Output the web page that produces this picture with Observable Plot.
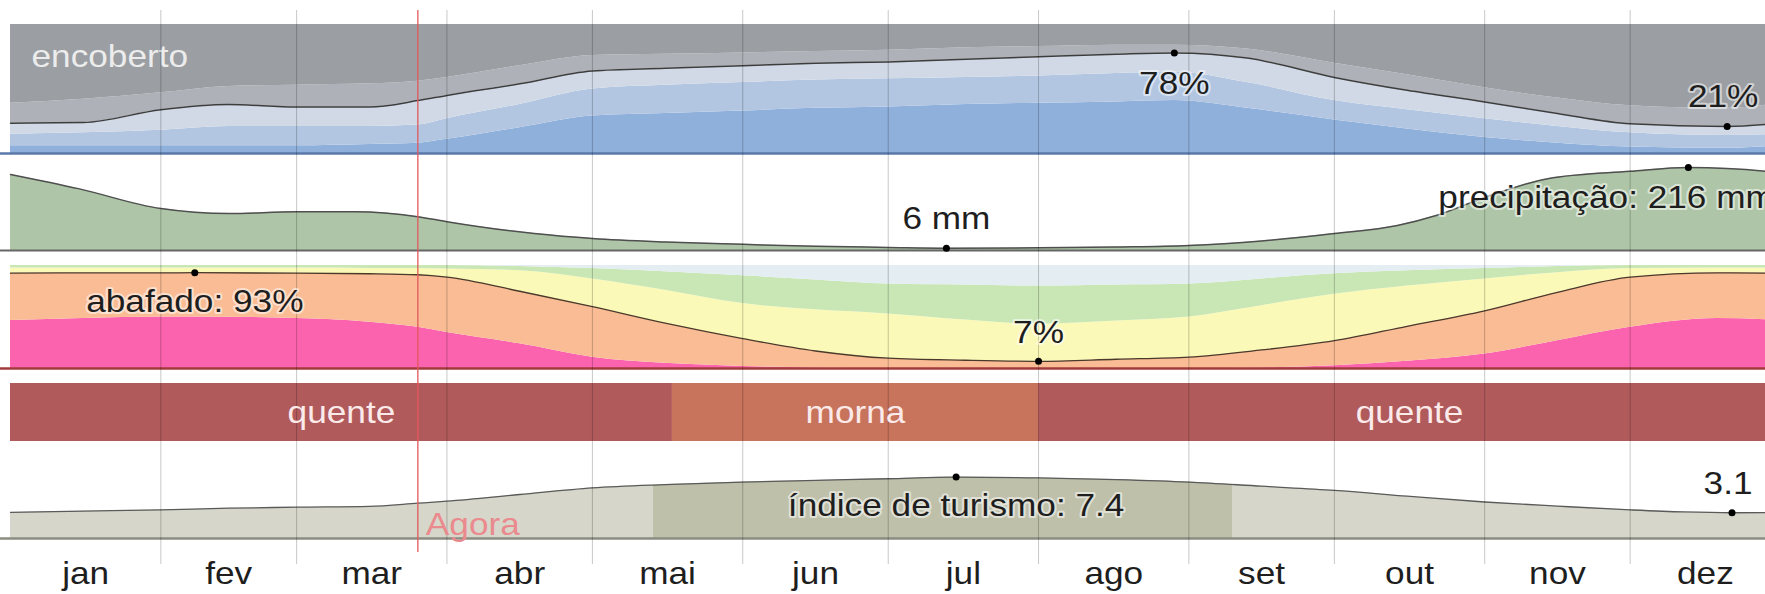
<!DOCTYPE html>
<html><head><meta charset="utf-8">
<script src="https://cdn.jsdelivr.net/npm/d3@7"></script>
<script src="https://cdn.jsdelivr.net/npm/@observablehq/plot@0.6"></script>
<style>
html,body{margin:0;padding:0;background:#fff;overflow:hidden;}
#chart svg{display:block;}
</style></head><body><div id="chart"></div>
<script>
// ---- months ----
const monthNames = ["jan","fev","mar","abr","mai","jun","jul","ago","set","out","nov","dez"];
const monthStarts = [0,31,59,90,120,151,181,212,243,273,304,334,365];
const nowDay = 84;

// ---- cloud cover (% of time, cumulative from the clearest band) ----
const cloudDays        = [0, 15, 31, 45, 59, 74, 84, 90, 105, 120, 135, 151, 166, 181, 197, 212, 228, 240, 255, 273, 288, 304, 319, 334, 354, 365];
const cloudClear       = [6, 6, 6, 6, 6, 7, 8, 11, 20, 29, 31, 33, 35, 36, 38, 39, 40, 41, 35, 26, 19, 12.5, 8, 5, 4, 6];
const cloudMostlyClear = [15, 16, 18, 21, 21, 21, 22, 27, 38, 50, 53, 55, 57, 58, 59, 60, 62, 63, 55, 41, 34, 27, 21, 16, 14, 15];
const cloudPartly      = [23.5, 24, 34, 38, 36, 36, 41, 45, 54, 64, 66, 68, 70, 71, 73, 75, 77, 78, 74, 59, 49, 40, 31, 23, 21, 23.5];
const cloudMostly      = [39, 42, 47, 52, 53, 54, 56, 59, 68, 76, 77, 78, 79, 80, 82, 83, 84, 84, 81, 70, 61, 51, 43, 37, 35, 39];

// ---- precipitation (mm) ----
const precipDays = [0, 14, 31, 45, 59, 71, 84, 90, 108, 120, 135, 151, 166, 181, 193, 212, 228, 243, 258, 273, 286, 294, 304, 317, 334, 346, 362, 365];
const precipMm   = [198, 161, 109, 96, 101, 101, 88, 75, 44, 31, 22, 16, 11, 8, 6, 7, 9, 13, 25, 44, 65, 91, 138, 187, 206, 216, 206, 198];

// ---- humidity comfort (% of time, cumulative from the most humid band) ----
const humDays        = [0, 15, 31, 38, 59, 74, 84, 90, 105, 120, 135, 151, 166, 181, 197, 212, 228, 243, 258, 273, 288, 304, 319, 334, 352, 365];
const humOppressive  = [46.6, 48.5, 50, 50, 48.5, 45, 40, 35, 24, 11, 5, 2, 0.5, 0, 0, 0, 0, 0, 0.5, 2.6, 7, 14, 27, 40, 48.5, 46.6];
const humMuggy       = [92.5, 92.8, 92.8, 93, 92.5, 92, 91, 88.7, 75, 60, 44, 29, 17, 10, 8, 7, 9, 11, 18, 27, 41, 56, 74, 88.7, 92.9, 92.5];
const humHumid       = [97.5, 97.5, 97.5, 97.5, 97.5, 97.2, 97, 96.5, 95, 87, 76, 63, 57, 53, 47, 43, 46, 50, 61, 72, 80, 87, 93, 97, 97.5, 97.5];
const humComfortable = [100, 100, 100, 100, 100, 100, 100, 100, 99, 97, 94, 90, 86, 82, 81, 80, 81, 82, 87, 92, 95, 97, 99, 100, 100, 100];

// ---- temperature seasons ----
const tempLabels = ["quente", "morna", "quente"];
const tempStart  = [0, 136.5, 212];
const tempEnd    = [136.5, 212, 365];

// ---- tourism score ----
const tourismDays  = [0, 15, 31, 45, 59, 74, 84, 90, 105, 120, 135, 151, 166, 181, 195, 212, 228, 243, 258, 273, 288, 304, 319, 334, 345, 355, 365];
const tourismScore = [3.15, 3.3, 3.45, 3.65, 3.77, 3.86, 4.25, 4.5, 5.3, 6.1, 6.5, 6.8, 7.0, 7.2, 7.4, 7.3, 7.1, 6.8, 6.3, 5.8, 5.1, 4.4, 3.9, 3.45, 3.2, 3.1, 3.15];
const bestSeasonStart = 132.6, bestSeasonEnd = 252;

// ---- build tables ----
const cloud = cloudDays.map((d,i)=>({day:d, clear:cloudClear[i], mclear:cloudMostlyClear[i], partly:cloudPartly[i], mostly:cloudMostly[i]}));
const precip = precipDays.map((d,i)=>({day:d, mm:precipMm[i]}));
const hum = humDays.map((d,i)=>({day:d, opp:humOppressive[i], muggy:humMuggy[i], humid:humHumid[i], comf:humComfortable[i]}));
const temp = tempLabels.map((t,i)=>({label:t, start:tempStart[i], end:tempEnd[i]}));
const tour = tourismDays.map((d,i)=>({day:d, score:tourismScore[i]}));
const months = monthNames.map((m,i)=>({name:m, mid:(monthStarts[i]+monthStarts[i+1])/2}));
const gridDays = monthStarts.slice(1,12);

const FONT = "'Liberation Sans', Arial, sans-serif";
const FS = 32;
const X = {domain:[0,365], range:[10,1780], axis:null};
const curve = "monotone-x";
const W = 1765;
const base = {width:W, marginLeft:0, marginRight:0, marginTop:0, marginBottom:0, x:X, style:{fontFamily:FONT, background:"transparent", overflow:"hidden"}};
const grid = (opts={}) => Plot.ruleX(gridDays, {stroke:"#000", strokeOpacity:0.22, strokeWidth:1, ...opts});
const nowRule = (opts={}) => Plot.ruleX([nowDay], {stroke:"#e2595c", strokeWidth:1.3, ...opts});
const lbl = {fontSize:FS, fill:"#1e1e1e", stroke:"#ffffff", strokeOpacity:0.55, strokeWidth:4, lineAnchor:"middle"};

const ext = (arr, key, fn) => arr[fn(arr, d=>d[key])];
const cMax = ext(cloud, "partly", d3.greatestIndex), cMin = ext(cloud, "partly", d3.leastIndex);
const pMax = ext(precip, "mm", d3.greatestIndex), pMin = ext(precip, "mm", d3.leastIndex);
const hMax = ext(hum, "muggy", d3.greatestIndex), hMin = ext(hum, "muggy", d3.leastIndex);
const tMax = ext(tour, "score", d3.greatestIndex), tMin = ext(tour, "score", d3.leastIndex);

const chart = document.getElementById("chart");
function add(svg){
  chart.append(svg);
  // the reference typeface is slightly wide: stretch glyphs horizontally
  svg.querySelectorAll("text").forEach(t=>{
    const L = t.getComputedTextLength();
    if (L > 0) { t.setAttribute("textLength", (L*1.1).toFixed(1)); t.setAttribute("lengthAdjust","spacingAndGlyphs"); }
  });
}

// Cloud panel
add(Plot.plot({...base, height:155, marginTop:10,
  y:{domain:[0,100], range:[153,24], axis:null},
  marks:[
    Plot.areaY(cloud, {x:"day", y1:0, y2:"clear", fill:"#8fb0db", curve}),
    Plot.areaY(cloud, {x:"day", y1:"clear", y2:"mclear", fill:"#b2c6e2", curve}),
    Plot.areaY(cloud, {x:"day", y1:"mclear", y2:"partly", fill:"#d1d9e6", curve}),
    Plot.areaY(cloud, {x:"day", y1:"partly", y2:"mostly", fill:"#aeb1b7", curve}),
    Plot.areaY(cloud, {x:"day", y1:"mostly", y2:100, fill:"#9b9ea3", curve}),
    Plot.lineY(cloud, {x:"day", y:"partly", stroke:"#3d3d3d", strokeWidth:1.5, curve}),
    Plot.ruleY([0], {stroke:"#5b79a8", strokeWidth:2.5}),
    Plot.text(["encoberto"], {frameAnchor:"top-left", dx:31, dy:34, lineAnchor:"top", fontSize:FS, fill:"#ececec"}),
    grid(), nowRule(),
    Plot.dot([cMax, cMin], {x:"day", y:"partly", r:3.5, fill:"#000"}),
    Plot.text([cMax], {x:"day", y:"partly", text:d=>`${Math.round(d.partly)}%`, dy:31, ...lbl}),
    Plot.text([cMin], {x:"day", y:"partly", text:d=>`${Math.round(d.partly)}%`, dy:-30, dx:-4, ...lbl})
  ]}));

// Precipitation panel
add(Plot.plot({...base, height:103,
  y:{domain:[0,216], range:[95,12], axis:null},
  marks:[
    Plot.areaY(precip, {x:"day", y:"mm", fill:"#aec6a7", curve}),
    Plot.lineY(precip, {x:"day", y:"mm", stroke:"#4f4f4f", strokeWidth:1.5, curve}),
    Plot.ruleY([0], {stroke:"#666", strokeWidth:2}),
    grid(), nowRule(),
    Plot.dot([pMax, pMin], {x:"day", y:"mm", r:3.5, fill:"#000"}),
    Plot.text([pMin], {x:"day", y:"mm", text:d=>`${d.mm} mm`, dy:-29, ...lbl}),
    Plot.text([pMax], {x:"day", y:"mm", text:d=>`precipitação: ${d.mm} mm`, textAnchor:"start", dx:-250, dy:30, ...lbl})
  ]}));

// Humidity panel
add(Plot.plot({...base, height:118,
  y:{domain:[0,100], range:[110,7], axis:null},
  marks:[
    Plot.areaY(hum, {x:"day", y1:0, y2:"opp", fill:"#fc63ae", curve}),
    Plot.areaY(hum, {x:"day", y1:"opp", y2:"muggy", fill:"#f9bc94", curve}),
    Plot.areaY(hum, {x:"day", y1:"muggy", y2:"humid", fill:"#fbf9b7", curve}),
    Plot.areaY(hum, {x:"day", y1:"humid", y2:"comf", fill:"#c9e6b5", curve}),
    Plot.areaY(hum, {x:"day", y1:"comf", y2:100, fill:"#e3edf2", curve}),
    Plot.lineY(hum, {x:"day", y:"muggy", stroke:"#4a3a2a", strokeWidth:1.3, curve}),
    Plot.ruleY([0], {stroke:"#a23c3c", strokeWidth:2.5}),
    grid(), nowRule(),
    Plot.dot([hMax, hMin], {x:"day", y:"muggy", r:3.5, fill:"#000"}),
    Plot.text([hMax], {x:"day", y:"muggy", text:d=>`abafado: ${Math.round(d.muggy)}%`, dy:29, ...lbl}),
    Plot.text([hMin], {x:"day", y:"muggy", text:d=>`${Math.round(d.muggy)}%`, dy:-29, ...lbl})
  ]}));

// Temperature panel
add(Plot.plot({...base, height:72,
  y:{domain:[0,1], range:[65,7], axis:null},
  color:{domain:["quente","morna"], range:["#b15a5b","#c8735c"]},
  marks:[
    Plot.rect(temp, {x1:"start", x2:"end", y1:0, y2:1, fill:"label"}),
    grid(), nowRule(),
    Plot.text(temp, {x:d=>(d.start+d.end)/2, y:0.5, text:"label", fontSize:FS, fill:"#fbeaea", lineAnchor:"middle"})
  ]}));

// Tourism panel
add(Plot.plot({...base, height:116,
  y:{domain:[0,10], range:[90,7], axis:null},
  marks:[
    Plot.areaY(tour, {x:"day", y:"score", fill:"#d6d7ca", curve}),
    Plot.rect([{a:bestSeasonStart, b:bestSeasonEnd}], {x1:"a", x2:"b", y1:0, y2:10, fill:"#bec0aa"}),
    Plot.areaY(tour, {x:"day", y1:"score", y2:10, fill:"#ffffff", curve}),
    Plot.lineY(tour, {x:"day", y:"score", stroke:"#5a5a5a", strokeWidth:1.3, curve}),
    Plot.ruleY([0], {stroke:"#8b8c82", strokeWidth:2.5}),
    grid(), nowRule({insetBottom:12}),
    Plot.text([nowDay], {x:d=>d, y:0, text:()=>"Agora", textAnchor:"start", dx:8, dy:-14, lineAnchor:"middle", fontSize:FS, fill:"#ea8a8e"}),
    Plot.dot([tMax, tMin], {x:"day", y:"score", r:3.5, fill:"#000"}),
    Plot.text([tMax], {x:"day", y:"score", text:d=>`índice de turismo: ${d.score}`, dy:29, ...lbl}),
    Plot.text([tMin], {x:"day", y:"score", text:d=>`${d.score}`, dy:-29, dx:-4, ...lbl})
  ]}));

// Month labels
add(Plot.plot({...base, height:30, style:{...base.style, overflow:"visible"},
  y:{domain:[0,1], range:[30,0], axis:null},
  marks:[
    Plot.text(months, {x:"mid", frameAnchor:"top", text:"name", lineAnchor:"top", dy:-3, fontSize:FS, fill:"#1e1e1e"})
  ]}));
</script></body></html>
